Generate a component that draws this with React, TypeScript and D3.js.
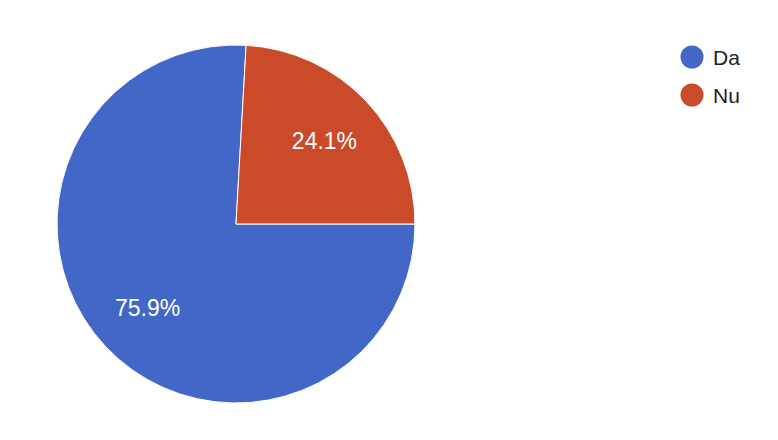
import React from "react";
import * as d3 from "d3";

const categories = ["Da", "Nu"];
const values = [75.9, 24.1];
const colors = ["#4267c7", "#cb4a29"];

export default function App() {
  const W = 778, H = 440;
  const cx = 236, cy = 224, r = 179;
  const pie = d3.pie<number>().sort(null).startAngle(Math.PI / 2).endAngle(Math.PI / 2 + 2 * Math.PI);
  const arcs = pie(values);
  const arc = d3.arc<d3.PieArcDatum<number>>().innerRadius(0).outerRadius(r);
  const labelArc = d3.arc<d3.PieArcDatum<number>>().innerRadius(r * 0.68).outerRadius(r * 0.68);
  const total = d3.sum(values);
  return (
    <svg width={W} height={H} style={{ position: "absolute", left: 0, top: 0, background: "#fff" }}
      fontFamily="'Liberation Sans', Arial, sans-serif">
      <g transform={`translate(${cx},${cy})`}>
        {arcs.map((a, i) => (
          <path key={i} d={arc(a) || ""} fill={colors[i]} stroke="#fff" strokeWidth={1} />
        ))}
        {arcs.map((a, i) => {
          const [x, y] = labelArc.centroid(a);
          return (
            <text key={"t" + i} x={x} y={y} dy="0.36em" textAnchor="middle" fill="#fff" fontSize={23}>
              {((values[i] / total) * 100).toFixed(1)}%
            </text>
          );
        })}
      </g>
      <g>
        {categories.map((c, i) => (
          <g key={c} transform={`translate(692,${57 + i * 38})`}>
            <circle r={11.5} fill={colors[i]} />
            <text x={21} y={0} dy="0.36em" fontSize={21} fill="#222">{c}</text>
          </g>
        ))}
      </g>
    </svg>
  );
}
